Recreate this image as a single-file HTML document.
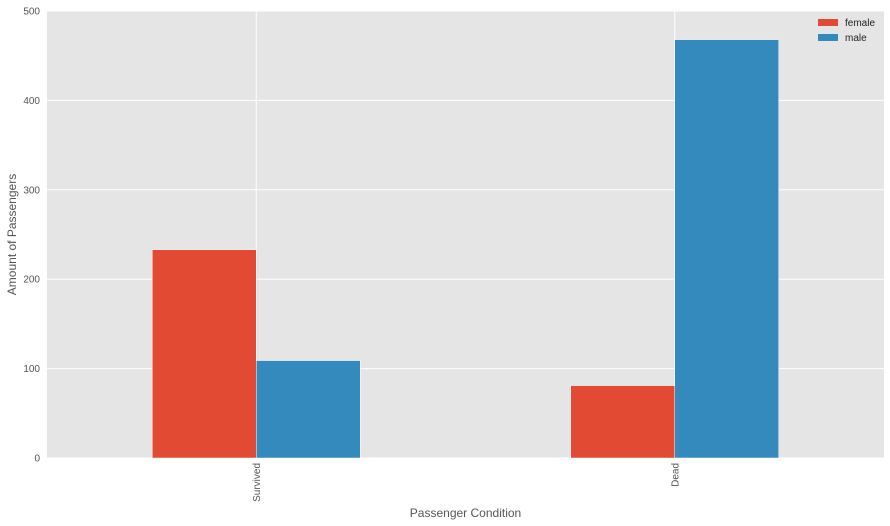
<!DOCTYPE html>
<html><head><meta charset="utf-8">
<style>
body{margin:0;background:#fff;font-family:"Liberation Sans",sans-serif;}
svg{display:block}
</style></head>
<body>
<svg id="chart" width="890" height="526" xmlns="http://www.w3.org/2000/svg"></svg>
<script>
const categories = ["Survived", "Dead"];
const seriesNames = ["female", "male"];
const femaleValues = [233, 81];
const maleValues = [109, 468];
const yTicks = [0, 100, 200, 300, 400, 500];
const colors = ["#E24A33", "#348ABD"];

const svg = document.getElementById('chart');
const NS = "http://www.w3.org/2000/svg";
const L = 47, R = 884, T = 11, B = 458, yMax = 500;
const y = v => B - (v / yMax) * (B - T);
const catW = (R - L) / categories.length;
const xc = i => L + catW * (i + 0.5);
const barW = 104;

function mk(tag, attrs, parent) {
  const e = document.createElementNS(NS, tag);
  for (const k in attrs) e.setAttribute(k, attrs[k]);
  (parent || svg).appendChild(e);
  return e;
}

const bg = mk('rect', {x: L, y: T, width: R - L, height: B - T, fill: '#E5E5E5'});



yTicks.forEach(t => {
  const g = mk('line', {x1: L, x2: R, y1: y(t), y2: y(t), stroke: '#fff', 'stroke-width': 1});
  
  
  const tx = mk('text', {x: L - 7, y: y(t) + 3.5, 'text-anchor': 'end', 'font-size': 10, fill: '#555'});
  tx.textContent = t;
  
  
});
categories.forEach((c, i) => {
  const g = mk('line', {x1: xc(i), x2: xc(i), y1: T, y2: B, stroke: '#fff', 'stroke-width': 1});
  
  
});

const series = [femaleValues, maleValues];
series.forEach((vals, s) => {
  vals.forEach((v, i) => {
    const x0 = xc(i) - barW + s * barW;
    const r = mk('rect', {x: x0, y: y(v), width: barW, height: B - y(v), fill: colors[s], stroke: '#fff', 'stroke-width': 0.5});
    
    
  });
});

categories.forEach((c, i) => {
  const tx = mk('text', {x: 0, y: 0, 'text-anchor': 'end', 'font-size': 10, fill: '#555',
    transform: `translate(${xc(i) + 3.5},${B + 5}) rotate(-90)`});
  tx.textContent = c;
  
  
});

const xt = mk('text', {x: (L + R) / 2, y: 517, 'text-anchor': 'middle', 'font-size': 12, fill: '#555'});
xt.textContent = 'Passenger Condition';


const yt = mk('text', {x: 0, y: 0, 'text-anchor': 'middle', 'font-size': 12, fill: '#555',
  transform: `translate(16,${(T + B) / 2}) rotate(-90)`});
yt.textContent = 'Amount of Passengers';



seriesNames.forEach((n, s) => {
  const ly = 23 + s * 15;
  const p = mk('rect', {x: 818, y: ly - 4, width: 20, height: 7, fill: colors[s]});
  
  
  const tx = mk('text', {x: 845, y: ly + 3, 'font-size': 10, fill: '#222'});
  tx.textContent = n;
  
  
});
</script>
</body></html>
